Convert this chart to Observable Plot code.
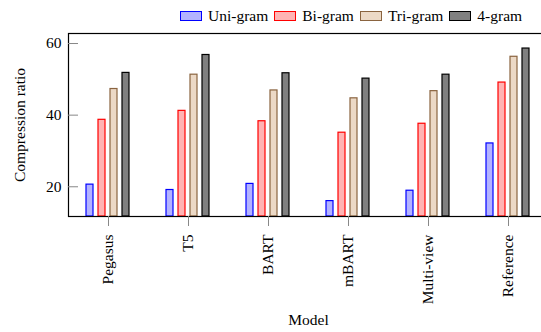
<!DOCTYPE html>
<html>
<head>
<meta charset="utf-8">
<script src="https://cdn.jsdelivr.net/npm/d3@7"></script>
<script src="https://cdn.jsdelivr.net/npm/@observablehq/plot@0.6"></script>
<style>
  html, body { margin: 0; padding: 0; background: white; overflow: hidden; }
  body { width: 541px; height: 332px; position: relative; font-family: "Liberation Serif", "Times New Roman", serif; }
  #legend { position: absolute; left: 180px; top: 7px; display: flex; align-items: center; font-size: 15.5px; color: black; z-index: 2; }
  #legend .item { display: flex; align-items: center; margin-right: 6px; }
  #legend .sw { width: 20px; height: 8px; margin-right: 6px; border-width: 1.2px; border-style: solid; }
  #chart { position: absolute; left: 0; top: 0; width: 550px; }
  #chart svg { max-width: none !important; width: 550px !important; height: 332px !important; }
  #chart svg text { font-family: "Liberation Serif", "Times New Roman", serif; }
</style>
</head>
<body>
<div id="legend"></div>
<div id="chart"></div>
<script>
const models = ["Pegasus", "T5", "BART", "mBART", "Multi-view", "Reference"];
const seriesNames = ["Uni-gram", "Bi-gram", "Tri-gram", "4-gram"];
const uni  = [20.6, 19.1, 20.8, 16.0, 18.9, 32.1];
const bi   = [38.7, 41.2, 38.3, 35.1, 37.6, 49.1];
const tri  = [47.3, 51.3, 46.9, 44.7, 46.7, 56.3];
const four = [51.8, 56.8, 51.7, 50.2, 51.3, 58.6];
const yTicks = [20, 40, 60];
const yDomain = [11.7, 62.8];

const fills   = ["#b3b3ff", "#ffb3b3", "#ecd9c6", "#808080"];
const strokes = ["#0000ff", "#ff0000", "#8a6440", "#000000"];

const seriesValues = [uni, bi, tri, four];
const data = models.flatMap((m, i) => seriesNames.map((s, j) => ({model: m, series: s, value: seriesValues[j][i]})));

const legend = document.getElementById("legend");
seriesNames.forEach((s, j) => {
  const it = document.createElement("div");
  it.className = "item";
  const sw = document.createElement("div");
  sw.className = "sw";
  sw.style.background = fills[j];
  sw.style.borderColor = strokes[j];
  const t = document.createElement("span");
  t.textContent = s;
  it.appendChild(sw); it.appendChild(t);
  legend.appendChild(it);
});

const barMarks = seriesNames.map((s, j) =>
  Plot.barY(data.filter(d => d.series === s), {
    fx: "model", x: "series", y1: yDomain[0], y2: "value",
    fill: fills[j], stroke: strokes[j], strokeWidth: 1.2
  })
);

const chart = Plot.plot({
  width: 550, height: 332,
  marginLeft: 65, marginRight: 0, marginTop: 33, marginBottom: 116,
  style: "font-family: 'Liberation Serif', 'Times New Roman', serif; font-size: 15.5px; max-width: none; color: black; background: transparent;",
  fx: {domain: models, padding: 0, label: null},
  x: {domain: seriesNames, paddingInner: 0.39, paddingOuter: 1.28, axis: null},
  y: {domain: yDomain},
  marks: [
    ...barMarks,
    Plot.frame({facet: "super", stroke: "black", strokeWidth: 1.2}),
    Plot.axisY({ticks: yTicks, tickSize: 0, tickPadding: 7, label: "Compression ratio", labelAnchor: "center", labelArrow: "none", labelOffset: 55}),
    Plot.axisY({ticks: yTicks, tickSize: -10, text: null, label: null, stroke: "#888"}),
    Plot.axisFx({anchor: "bottom", tickSize: 10, text: null, label: null, stroke: "#888"}),
    Plot.axisFx({anchor: "bottom", tickSize: 0, tickPadding: 18, tickRotate: -90, label: "Model", labelAnchor: "center", labelArrow: "none", labelOffset: 108})
  ]
});
document.getElementById("chart").appendChild(chart);
</script>
</body>
</html>
